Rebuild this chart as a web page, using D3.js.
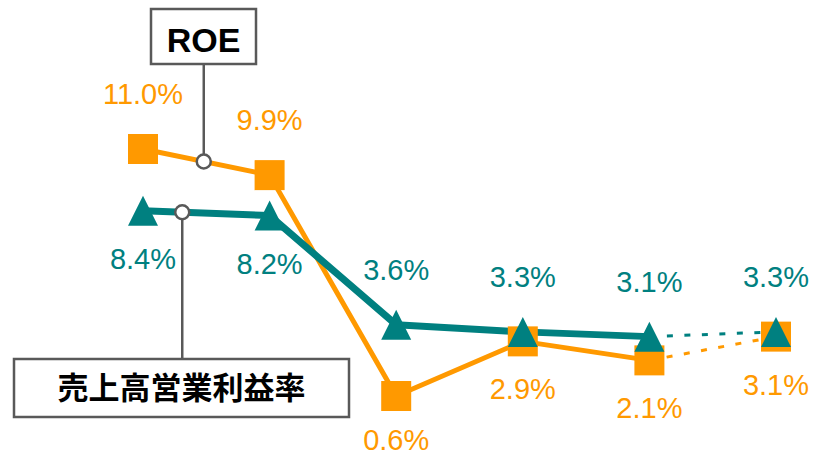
<!DOCTYPE html>
<html>
<head>
<meta charset="utf-8">
<script src="https://cdn.jsdelivr.net/npm/d3@7"></script>
<style>
  html, body { margin: 0; padding: 0; background: #fff; }
  svg { display: block; }
</style>
</head>
<body>
<svg id="chart" width="816" height="456"></svg>
<script>
// Six periods, the last one a forecast (drawn dashed)
const periods = ["P1", "P2", "P3", "P4", "P5", "P6"];
const roe = [11.0, 9.9, 0.6, 2.9, 2.1, 3.1];
const operatingMargin = [8.4, 8.2, 3.6, 3.3, 3.1, 3.3];
// Label placement for each point: "above" or "below" the marker
const roeLabelPos = ["above", "above", "below", "below", "below", "below"];
const marginLabelPos = ["below", "below", "above", "above", "above", "above"];
const roeTitle = "ROE";
const marginTitle = "売上高営業利益率";

const ORANGE = "#FF9900";
const TEAL = "#008080";
const GREY = "#595959";

const svg = d3.select("#chart");

const x = d3.scalePoint().domain(periods).range([143, 776]);
const y = d3.scaleLinear().domain([0, 12]).range([410.25, 125.25]);

const fmt = v => v.toFixed(1) + "%";

function drawSeries(values, color, width, dashWidth) {
  const pts = values.map((v, i) => [x(periods[i]), y(v)]);
  const line = d3.line();
  const g = svg.append("g");
  // solid part: actual results
  g.append("path")
    .attr("d", line(pts.slice(0, 5)))
    .attr("fill", "none")
    .attr("stroke", color)
    .attr("stroke-width", width)
    .attr("stroke-linejoin", "round");
  // dashed part: forecast
  g.append("path")
    .attr("d", line(pts.slice(4)))
    .attr("fill", "none")
    .attr("stroke", color)
    .attr("stroke-width", dashWidth)
    .attr("stroke-dasharray", "6,11.5");
  return pts;
}

const roePts = drawSeries(roe, ORANGE, 5, 3);
const marginPts = drawSeries(operatingMargin, TEAL, 7, 3);

// Markers: squares for ROE, triangles for operating margin
svg.append("g").selectAll("path")
  .data(roe)
  .join("path")
  .attr("transform", (d, i) => `translate(${x(periods[i])},${y(d)})`)
  .attr("d", d3.symbol(d3.symbolSquare, 900)())
  .attr("fill", ORANGE);

svg.append("g").selectAll("path")
  .data(operatingMargin)
  .join("path")
  .attr("transform", (d, i) => `translate(${x(periods[i])},${y(d)})`)
  .attr("d", "M0,-15L15,15L-15,15Z")
  .attr("fill", TEAL);

// Value labels
function drawLabels(values, positions, color) {
  svg.append("g").selectAll("text")
    .data(values)
    .join("text")
    .attr("x", (d, i) => x(periods[i]))
    .attr("y", (d, i) => Math.min(y(d) + (positions[i] === "above" ? -45 : 58), 450))
    .attr("text-anchor", "middle")
    .attr("font-family", "'Liberation Sans', Arial, sans-serif")
    .attr("font-size", 29)
    .attr("fill", color)
    .text(fmt);
}
drawLabels(roe, roeLabelPos, ORANGE);
drawLabels(operatingMargin, marginLabelPos, TEAL);

// Callout boxes with leader lines pointing to the series
function callout(pts, t, box, text, fontSize, fontFamily, textY) {
  const [a, b] = pts;
  const cx = a[0] + (b[0] - a[0]) * t;
  const cy = a[1] + (b[1] - a[1]) * t;
  const g = svg.append("g");
  const above = box.y + box.h < cy;
  g.append("line")
    .attr("x1", cx).attr("x2", cx)
    .attr("y1", above ? box.y + box.h : box.y)
    .attr("y2", cy)
    .attr("stroke", GREY).attr("stroke-width", 2.5);
  g.append("circle")
    .attr("cx", cx).attr("cy", cy).attr("r", 7)
    .attr("fill", "#fff").attr("stroke", GREY).attr("stroke-width", 2.5);
  g.append("rect")
    .attr("x", box.x).attr("y", box.y)
    .attr("width", box.w).attr("height", box.h)
    .attr("fill", "#fff").attr("stroke", GREY).attr("stroke-width", 2.5);
  g.append("text")
    .attr("x", box.x + box.w / 2)
    .attr("y", textY)
    .attr("text-anchor", "middle")
    .attr("font-family", fontFamily)
    .attr("font-weight", "bold")
    .attr("font-size", fontSize)
    .attr("fill", "#000")
    .text(text);
}

callout(roePts, 0.48, { x: 151, y: 9, w: 105, h: 55 }, roeTitle, 34,
  "'Liberation Sans', Arial, sans-serif", 52);
callout(marginPts, 0.31, { x: 14, y: 359, w: 335, h: 58 }, marginTitle, 31,
  "'Noto Sans CJK JP', sans-serif", 399);
</script>
</body>
</html>
